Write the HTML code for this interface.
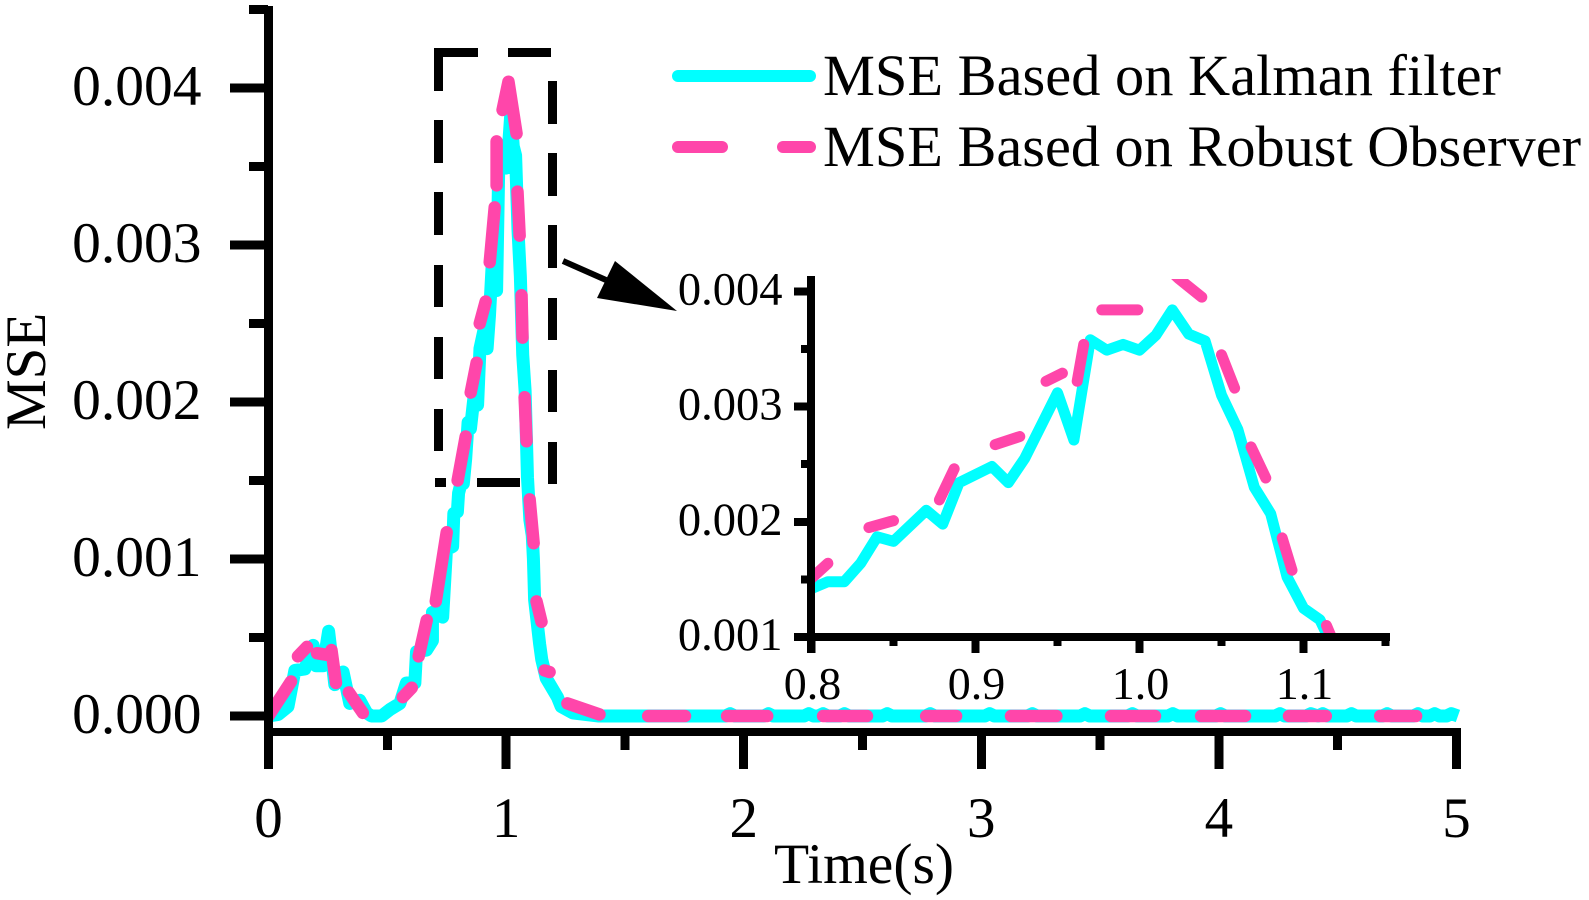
<!DOCTYPE html>
<html lang="en">
<head>
<meta charset="utf-8">
<title>MSE comparison chart</title>
<style>
html,body{margin:0;padding:0;background:#fff;width:1589px;height:900px;overflow:hidden}
svg{display:block;font-family:"Liberation Serif",serif;fill:#000}
</style>
</head>
<body>
<svg id="chart" xmlns="http://www.w3.org/2000/svg" width="1589" height="900" viewBox="0 0 1589 900">
  <defs>
    <clipPath id="inset-clip"><rect x="811" y="279" width="580" height="358"/></clipPath>
  </defs>
  <rect x="0" y="0" width="1589" height="900" fill="#fff"/>
  <g id="main-series"></g>
  <g id="main-axes"></g>
  <g id="inset-series" clip-path="url(#inset-clip)"></g>
  <g id="inset-axes"></g>

  <text transform="translate(45,430) rotate(-90)" font-size="57">MSE</text>
  <text x="774" y="883" font-size="57.5">Time(s)</text>

  <g stroke="#000" stroke-width="9" fill="none" shape-rendering="crispEdges">
    <path d="M478 52.5H438.5V91M508 52.5H551M438.5 120V163M438.5 192V235M438.5 265V307M438.5 337V379M438.5 409V451M552.5 81V124M552.5 153V196M552.5 225V268M552.5 298V340M552.5 370V412M552.5 442V484M435 482.5H446M477 482.5H520"/>
  </g>
  <g>
    <line x1="563" y1="261" x2="606" y2="280" stroke="#000" stroke-width="6"/>
    <polygon points="677,311 615,261 597,298" fill="#000"/>
  </g>

  <g>
    <g>
      <line x1="678" y1="76" x2="810" y2="76" stroke="#00ffff" stroke-width="12" stroke-linecap="round"/>
      <text x="823" y="95" font-size="58" textLength="678" lengthAdjust="spacingAndGlyphs">MSE Based on Kalman filter</text>
    </g>
    <g>
      <line x1="678" y1="147" x2="722" y2="147" stroke="#ff46aa" stroke-width="12" stroke-linecap="round"/>
      <line x1="783" y1="147" x2="810" y2="147" stroke="#ff46aa" stroke-width="12" stroke-linecap="round"/>
      <text x="823" y="166" font-size="58" textLength="758" lengthAdjust="spacingAndGlyphs">MSE Based on Robust Observer</text>
    </g>
  </g>
</svg>
<script>
// Kalman filter MSE (time in s, MSE value)
const kalmanTime = [0,0.041,0.082,0.111,0.153,0.188,0.2,0.23,0.253,0.279,0.314,0.342,0.384,0.413,0.433,0.476,0.51,0.553,0.58,0.616,0.623,0.665,0.69,0.69,0.733,0.742,0.749,0.775,0.78,0.795,0.8,0.81,0.82,0.83,0.84,0.85,0.87,0.88,0.89,0.91,0.92,0.93,0.95,0.96,0.97,0.98,0.99,1.0,1.01,1.02,1.03,1.04,1.05,1.06,1.07,1.08,1.09,1.1,1.11,1.115,1.12,1.141,1.15,1.169,1.216,1.232,1.28,1.39,1.923,1.943,1.963,2.084,2.104,2.124,2.254,2.274,2.294,2.314,2.334,2.354,2.404,2.424,2.444,2.584,2.604,2.624,2.765,2.785,2.805,3.015,3.035,3.055,3.195,3.215,3.235,3.416,3.436,3.456,3.616,3.636,3.656,3.786,3.806,3.826,3.987,4.007,4.027,4.237,4.257,4.277,4.367,4.387,4.417,4.437,4.457,4.538,4.558,4.578,4.688,4.708,4.728,4.818,4.838,4.858,4.888,4.908,4.928,4.958,4.978,5.006];
const kalmanMse = [0,0.00001,0.00006,0.00029,0.0003,0.00045,0.00032,0.00032,0.00054,0.0002,0.00028,0.00008,0.0001,0.00002,0,0,0.00004,0.00008,0.00021,0.00021,0.00041,0.00042,0.00048,0.00066,0.00063,0.00087,0.00106,0.00108,0.00129,0.0013,0.00142,0.00148,0.00148,0.00164,0.00187,0.00183,0.0021,0.00198,0.00234,0.00248,0.00234,0.00255,0.00312,0.00271,0.00358,0.00349,0.00354,0.00349,0.00362,0.00384,0.00363,0.00357,0.0031,0.0028,0.0023,0.00207,0.00152,0.00125,0.00115,0.001,0.00074,0.00046,0.00036,0.00024,0.00012,0.00006,0.00002,0,0,0.000015,0,0,0.000015,0,0,0.000015,0,0,0.000015,0,0,0.000015,0,0,0.000015,0,0,0.000015,0,0,0.000015,0,0,0.000015,0,0,0.000015,0,0,0.000015,0,0,0.000015,0,0,0.000015,0,0,0.000015,0,0,0.000015,0,0.000015,0,0,0.000015,0,0,0.000015,0,0,0.000015,0,0,0.000015,0,0,0.000015,0];

// Robust observer MSE, null marks a gap between dashes (main view)
const robustTime = [0,0.095,null,0.124,0.162,null,0.204,0.245,null,0.265,0.284,null,0.338,0.397,null,0.565,0.603,null,0.632,0.666,null,0.704,0.75,null,0.796,0.83,null,0.851,0.876,null,0.889,0.914,null,0.931,0.952,null,0.96,0.96,null,0.985,1.01,1.044,null,1.048,1.057,null,1.065,1.069,null,1.078,1.086,null,1.099,1.116,null,1.128,1.149,null,1.162,1.183,null,1.258,1.393,null,1.598,1.753,null,1.93,2.099,null,2.334,2.519,null,2.768,2.894,null,3.125,3.316,null,3.546,3.731,null,3.925,4.11,null,4.295,4.45,null,4.679,4.83];
const robustMse = [0,0.00022,null,0.00038,0.00044,null,0.0004,0.00039,null,0.00042,0.00021,null,0.00015,0.00002,null,0.00012,0.00018,null,0.00038,0.00061,null,0.00073,0.00117,null,0.0015,0.00178,null,0.00206,0.00225,null,0.0025,0.00264,null,0.00289,0.00324,null,0.00338,0.00366,null,0.00386,0.00404,0.00371,null,0.00334,0.00306,null,0.00268,0.00241,null,0.00203,0.00175,null,0.00138,0.0011,null,0.00073,0.0006,null,0.00029,0.00028,null,0.00008,0.00001,null,0,0,null,0,0,null,0,0,null,0,0,null,0,0,null,0,0,null,0,0,null,0,0,null,0,0];

// Robust observer MSE as seen in the zoomed inset
const robustInsetTime = [0.8,0.81,null,0.835,0.85,null,0.878,0.887,null,0.912,0.927,null,0.943,0.953,null,0.962,0.966,null,0.977,0.999,null,1.018,1.024,1.038,null,1.05,1.058,null,1.068,1.077,null,1.087,1.093,null,1.114,1.119];
const robustInsetMse = [0.00151,0.00164,null,0.00195,0.00201,null,0.00219,0.00246,null,0.00267,0.00274,null,0.00322,0.00329,null,0.00322,0.00354,null,0.00384,0.00384,null,0.00419,0.00411,0.00395,null,0.00345,0.00316,null,0.00265,0.00238,null,0.00186,0.00158,null,0.0011,0.00093];

// Tick labels
const mainXTicks = [0,1,2,3,4,5];
const mainXMinor = [0.5,1.5,2.5,3.5,4.5];
const mainYTicks = [0,0.001,0.002,0.003,0.004];
const mainYMinor = [0.0005,0.0015,0.0025,0.0035,0.0045];
const mainYLabels = ['0.000','0.001','0.002','0.003','0.004'];
const insetXTicks = [0.8,0.9,1.0,1.1];
const insetXMinor = [0.85,0.95,1.05,1.15];
const insetXLabels = ['0.8','0.9','1.0','1.1'];
const insetYTicks = [0.001,0.002,0.003,0.004];
const insetYMinor = [0.0015,0.0025,0.0035];
const insetYLabels = ['0.001','0.002','0.003','0.004'];

// Axis functions
const mainX = t => 268.5 + 237.6 * t;
const mainY = v => 716 - 157000 * v;
const insetX = t => 811.5 + 1640 * (t - 0.8);
const insetY = v => 637 - 115200 * (v - 0.001);

const NS = 'http://www.w3.org/2000/svg';
function mk(tag, attrs, parent) {
  const el = document.createElementNS(NS, tag);
  for (const k in attrs) el.setAttribute(k, attrs[k]);
  parent.appendChild(el);
  return el;
}
function pathFrom(ts, vs, fx, fy) {
  let d = '', pen = false;
  for (let i = 0; i < ts.length; i++) {
    if (ts[i] === null || vs[i] === null) { pen = false; continue; }
    d += (pen ? 'L' : 'M') + fx(ts[i]).toFixed(2) + ' ' + fy(vs[i]).toFixed(2);
    pen = true;
  }
  return d;
}
const CYAN = '#00ffff', PINK = '#ff46aa';
const mainSeries = document.getElementById('main-series');
const mainAxes = document.getElementById('main-axes');
const insetSeries = document.getElementById('inset-series');
const insetAxes = document.getElementById('inset-axes');

let el;
el = mk('path', {d: pathFrom(kalmanTime, kalmanMse, mainX, mainY), fill: 'none', stroke: CYAN, 'stroke-width': 13, 'stroke-linejoin': 'round', 'stroke-linecap': 'butt'}, mainSeries);


el = mk('path', {d: pathFrom(robustTime, robustMse, mainX, mainY), fill: 'none', stroke: PINK, 'stroke-width': 12.5, 'stroke-linejoin': 'round', 'stroke-linecap': 'round'}, mainSeries);


el = mk('path', {d: pathFrom(kalmanTime, kalmanMse, insetX, insetY), fill: 'none', stroke: CYAN, 'stroke-width': 11, 'stroke-linejoin': 'round'}, insetSeries);


el = mk('path', {d: pathFrom(robustInsetTime, robustInsetMse, insetX, insetY), fill: 'none', stroke: PINK, 'stroke-width': 11, 'stroke-linejoin': 'round', 'stroke-linecap': 'round'}, insetSeries);



const crisp = {stroke: '#000', 'shape-rendering': 'crispEdges'};
// Main axes
el = mk('line', {...crisp, x1: 268.5, x2: 268.5, y1: 6, y2: 769, 'stroke-width': 9}, mainAxes);


el = mk('line', {...crisp, x1: 264, x2: 1461, y1: 732, y2: 732, 'stroke-width': 8}, mainAxes);


mainXTicks.forEach(t => {
  el = mk('line', {...crisp, x1: mainX(t), x2: mainX(t), y1: 732, y2: 769, 'stroke-width': 9}, mainAxes);
  
  
  el = mk('text', {x: mainX(t), y: 837, 'font-size': 57, 'text-anchor': 'middle'}, mainAxes);
  el.textContent = String(t);
  
  
});
mainXMinor.forEach(t => {
  el = mk('line', {...crisp, x1: mainX(t), x2: mainX(t), y1: 732, y2: 750, 'stroke-width': 9}, mainAxes);
  
  
});
mainYTicks.forEach((v, i) => {
  el = mk('line', {...crisp, x1: 230, x2: 268, y1: mainY(v), y2: mainY(v), 'stroke-width': 9}, mainAxes);
  
  
  el = mk('text', {x: 201.5, y: mainY(v) + 17, 'font-size': 57.5, 'text-anchor': 'end'}, mainAxes);
  el.textContent = mainYLabels[i];
  
  
});
mainYMinor.forEach(v => {
  el = mk('line', {...crisp, x1: 249, x2: 268, y1: mainY(v), y2: mainY(v), 'stroke-width': 9}, mainAxes);
  
  
});
// Inset axes
el = mk('line', {...crisp, x1: 811, x2: 811, y1: 276, y2: 653, 'stroke-width': 8}, insetAxes);


el = mk('line', {...crisp, x1: 807, x2: 1390, y1: 637, y2: 637, 'stroke-width': 8}, insetAxes);


insetXTicks.forEach((t, i) => {
  el = mk('line', {...crisp, x1: insetX(t), x2: insetX(t), y1: 637, y2: 653, 'stroke-width': 8}, insetAxes);
  
  
  el = mk('text', {x: insetX(t) + 1, y: 699, 'font-size': 46, 'text-anchor': 'middle'}, insetAxes);
  el.textContent = insetXLabels[i];
  
  
});
insetXMinor.forEach(t => {
  el = mk('line', {...crisp, x1: insetX(t), x2: insetX(t), y1: 637, y2: 646, 'stroke-width': 8}, insetAxes);
  
  
});
insetYTicks.forEach((v, i) => {
  el = mk('line', {...crisp, x1: 794, x2: 811, y1: insetY(v), y2: insetY(v), 'stroke-width': 8}, insetAxes);
  
  
  el = mk('text', {x: 782.5, y: insetY(v) + 13, 'font-size': 46.5, 'text-anchor': 'end'}, insetAxes);
  el.textContent = insetYLabels[i];
  
  
});
insetYMinor.forEach(v => {
  el = mk('line', {...crisp, x1: 801, x2: 811, y1: insetY(v), y2: insetY(v), 'stroke-width': 8}, insetAxes);
  
  
});
</script>
</body>
</html>
